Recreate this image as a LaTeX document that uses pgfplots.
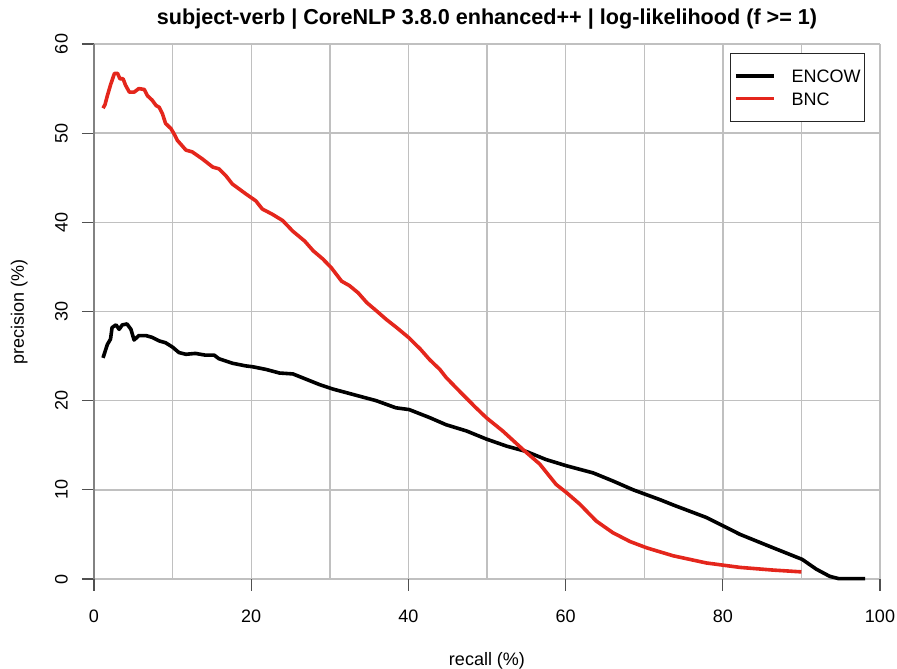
\documentclass[border=0pt]{standalone}
\usepackage{fontspec}
\setmainfont{Liberation Sans}
\usepackage{pgfplots}
\pgfplotsset{compat=1.18}
\definecolor{bncred}{RGB}{228,38,28}
\definecolor{gridgray}{RGB}{192,192,192}
\definecolor{tickgray}{RGB}{80,80,80}
\definecolor{axgray}{RGB}{130,130,130}
\begin{document}
\begin{tikzpicture}
\begin{axis}[
  at={(0pt,0pt)}, anchor=south west,
  scale only axis, width=786pt, height=535pt,
  xmin=0, xmax=100, ymin=0, ymax=60,
  xtick={0,20,...,100}, ytick={0,10,...,60},
  minor xtick={10,30,50,70,90},
  grid=both,
  major grid style={gridgray, line width=1.4pt},
  minor grid style={gridgray, line width=1.4pt},
  axis line style={draw=none},
  tick align=outside, major tick length=12pt, minor tick length=0pt,
  xtick pos=bottom, ytick pos=left,
  major tick style={tickgray, line width=1.3pt},
  minor tick style={draw=none},
  /pgf/number format/assume math mode=true,
  ticklabel style={font=\fontsize{18}{21.6}\selectfont},
  xticklabel style={anchor=north, inner sep=0pt, yshift=-19pt},
  yticklabel={\rotatebox{90}{\pgfmathprintnumber{\tick}}},
  yticklabel style={anchor=east, inner sep=0pt, xshift=-14pt},
  title={subject-verb | CoreNLP 3.8.0 enhanced++ | log-likelihood (f >= 1)},
  title style={font=\bfseries\fontsize{21.6}{26}\selectfont, at={(axis description cs:0.5,1)}, anchor=base, yshift=13pt},
  xlabel={recall (\%)},
  xlabel style={font=\fontsize{18}{21.6}\selectfont, at={(axis description cs:0.5,0)}, anchor=base, yshift=-86pt},
  ylabel={precision (\%)},
  ylabel style={font=\fontsize{18}{21.6}\selectfont, at={([xshift=-70pt]axis description cs:0,0.5)}, anchor=base, rotate=0},
  legend style={at={([xshift=-15pt,yshift=-9pt]axis description cs:1,1)}, anchor=north east,
    draw=black!85, line width=0.8pt, font=\fontsize{18}{21.6}\selectfont,
    inner xsep=4pt, inner ysep=16pt, row sep=10pt,
    nodes={inner sep=0pt, text height=12.9pt, text depth=0pt},
    /tikz/every odd column/.append style={column sep=16pt}},
  legend cell align=left,
  legend image code/.code={\draw[#1, line width=3.5pt] (0pt,0pt) -- (38pt,0pt);},
  clip=false,
]
\draw[axgray, line width=1.3pt] (axis cs:0,0) -- (axis cs:0,60);
\addplot[black, line width=3.6pt, line join=round] coordinates {
(1.15,24.8)(1.7,26.3)(2.1,26.9)(2.3,28.2)(2.8,28.5)(3.2,28.0)(3.6,28.5)(4.2,28.6)(4.7,28.0)(5.1,26.8)(5.7,27.3)(6.6,27.3)(7.4,27.1)(8.3,26.7)(9.1,26.5)(10.0,26.0)(10.8,25.4)(11.7,25.2)(12.9,25.3)(14.2,25.1)(15.3,25.1)(15.9,24.7)(17.6,24.2)(19.3,23.9)(20.2,23.8)(21.9,23.5)(23.6,23.1)(25.3,23.0)(27.0,22.4)(28.7,21.8)(30.4,21.3)(32.1,20.9)(34.2,20.4)(35.9,20.0)(38.4,19.2)(40.1,19.0)(42.7,18.1)(44.8,17.3)(47.4,16.6)(49.9,15.7)(52.5,14.9)(55.0,14.3)(57.5,13.4)(60.1,12.7)(63.5,11.9)(66.0,11.0)(68.6,10.0)(72.0,8.9)(73.7,8.3)(77.9,6.9)(82.2,5.0)(86.4,3.5)(90.1,2.2)(91.9,1.1)(93.6,0.3)(94.7,0.05)(98.1,0.05)
};
\addlegendentry{ENCOW\hspace{6pt}}
\addplot[bncred, line width=3.6pt, line join=round] coordinates {
(1.15,52.8)(1.4,53.2)(1.7,54.2)(2.1,55.4)(2.6,56.7)(3.0,56.7)(3.3,56.1)(3.7,56.1)(4.0,55.4)(4.5,54.6)(5.1,54.6)(5.7,55.0)(6.4,54.9)(6.8,54.2)(7.4,53.7)(7.9,53.1)(8.3,52.9)(8.7,52.2)(9.1,51.1)(9.8,50.5)(10.2,49.9)(10.6,49.2)(11.7,48.1)(12.5,47.9)(13.8,47.1)(15.1,46.2)(15.9,46.0)(16.8,45.2)(17.6,44.3)(19.3,43.2)(20.6,42.4)(21.4,41.5)(22.7,40.9)(24.0,40.2)(25.3,39.0)(26.8,37.9)(27.9,36.8)(29.1,35.9)(30.2,34.9)(31.5,33.4)(32.5,32.9)(33.6,32.1)(34.7,31.0)(35.9,30.1)(37.2,29.1)(38.5,28.2)(40.0,27.1)(41.5,25.8)(42.7,24.6)(44.0,23.5)(44.8,22.6)(46.9,20.7)(48.6,19.2)(49.9,18.1)(52.0,16.6)(54.6,14.5)(56.7,12.9)(58.8,10.6)(60.1,9.7)(61.8,8.4)(63.9,6.5)(66.0,5.2)(68.2,4.2)(70.3,3.5)(71.8,3.1)(73.7,2.6)(77.9,1.8)(82.2,1.3)(86.4,1.0)(90.0,0.8)
};
\addlegendentry{BNC}
\end{axis}
\pgfresetboundingbox
\useasboundingbox (-94pt,-90pt) rectangle (803pt,579pt);
\end{tikzpicture}
\end{document}
